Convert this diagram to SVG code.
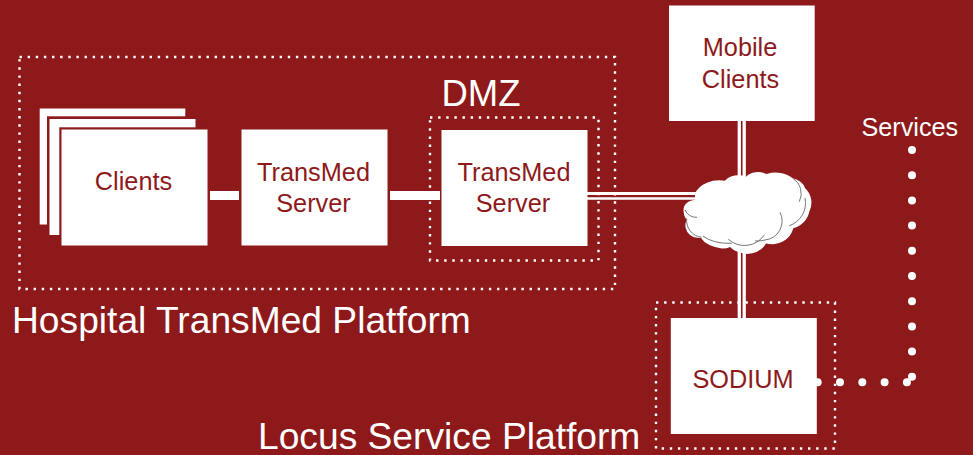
<svg xmlns="http://www.w3.org/2000/svg" width="973" height="455" viewBox="0 0 973 455">
<style>
.box{fill:#fff}
.zone{fill:none;stroke:#fff;stroke-width:2.4;stroke-dasharray:2.4 5.73}
.t{font-family:"Liberation Sans",Arial,sans-serif;font-size:25.3px;fill:#8e191b;text-anchor:middle}
.w{font-family:"Liberation Sans",Arial,sans-serif;fill:#fff}
.link{stroke:#fff;fill:none}
.big{stroke:#fff;fill:none;stroke-width:8;stroke-linecap:round}
.arc{fill:none;stroke:#777;stroke-width:1}
</style>
<rect width="973" height="455" fill="#8e191b"/>
<g id="zones">
<rect class="zone" x="19.5" y="57" width="595.5" height="232"/>
<rect class="zone" x="430" y="117.5" width="168.5" height="143"/>
<rect class="zone" x="656" y="302.5" width="179" height="146"/>
</g>
<g id="connectors">
<path class="link" stroke-width="9" d="M210 195.5H239M390 195.5H440"/>
<path class="link" stroke-width="3" d="M587 193.5H700"/>
<path class="link" stroke-width="2.4" d="M587 198.5H700"/>
<path class="link" stroke-width="3.3" d="M739.3 121V180M744.2 121V180M739.3 248V318M744.2 248V318"/>
<path class="big" stroke-dasharray="0 25.2" d="M912 150V377"/>
<path class="big" stroke-dasharray="0 22.3" d="M817.7 382.3H907"/>
</g>
<g id="clients">
<rect class="box" x="39.7" y="108.5" width="145.6" height="116"/>
<rect x="47" y="116.3" width="149" height="119" fill="#8e191b"/>
<rect class="box" x="49.5" y="119" width="146" height="116"/>
<rect x="59.3" y="127.3" width="148" height="118" fill="#8e191b"/>
<rect class="box" x="61.5" y="129.5" width="146" height="116"/>
<text class="t" x="133.5" y="189.7">Clients</text>
</g>
<g id="server1">
<rect class="box" x="241.5" y="129.5" width="146" height="116"/>
<text class="t" x="313.5" y="180.7">TransMed</text>
<text class="t" x="313.5" y="212.3">Server</text>
</g>
<g id="server2">
<rect class="box" x="441.5" y="130" width="146" height="116"/>
<text class="t" x="514" y="180.7">TransMed</text>
<text class="t" x="513" y="212.3">Server</text>
</g>
<g id="mobile">
<rect class="box" x="669" y="5.5" width="145.7" height="115.5"/>
<text class="t" x="740" y="55.5">Mobile</text>
<text class="t" x="740.5" y="87.5">Clients</text>
</g>
<g id="cloud">
<path fill="#fff" d="M695 193.3A26 20 0 0 1 725 180.7A17 14 0 0 1 746 176.7A15 11 0 0 1 766.7 174A22 16 0 0 1 792.7 178.3A20 14 0 0 1 805 188A20 20 0 0 1 809.3 211.7A22 22 0 0 1 793.3 228.3A22 20 0 0 1 766 243.5A23 17 0 0 1 747 254A26 14 0 0 1 730 247A10 5 0 0 1 722 248.5A32 16 0 0 1 701 238A12 5 0 0 1 690 235A17 14 0 0 1 686.7 220A16 16 0 0 1 684 206.7A12 12 0 0 1 695 200Z"/>
<path class="arc" d="M792.7 178.3A18 18 0 0 1 799.3 201.7M805 198A24 24 0 0 1 789.3 225.7M780 212.3A19 19 0 0 1 765 240A24 14 0 0 1 755 241M764.3 235A24 24 0 0 1 728.3 239.3M703 236A30 15 0 0 0 731.7 243.3M686.7 218.3A17 17 0 0 0 701.7 237.3M685 210A12 12 0 0 0 697 217.3"/>
</g>
<g id="sodium">
<rect class="box" x="670.8" y="318" width="146" height="116"/>
<text class="t" x="743" y="387.7">SODIUM</text>
</g>
<g id="labels">
<text class="w" x="441.5" y="106.3" font-size="36.5px">DMZ</text>
<text class="w" x="12" y="333" font-size="37.2px">Hospital TransMed Platform</text>
<text class="w" x="258" y="449" font-size="37.2px">Locus Service Platform</text>
<text class="w" x="861.5" y="135.5" font-size="25.2px">Services</text>
</g>
</svg>
